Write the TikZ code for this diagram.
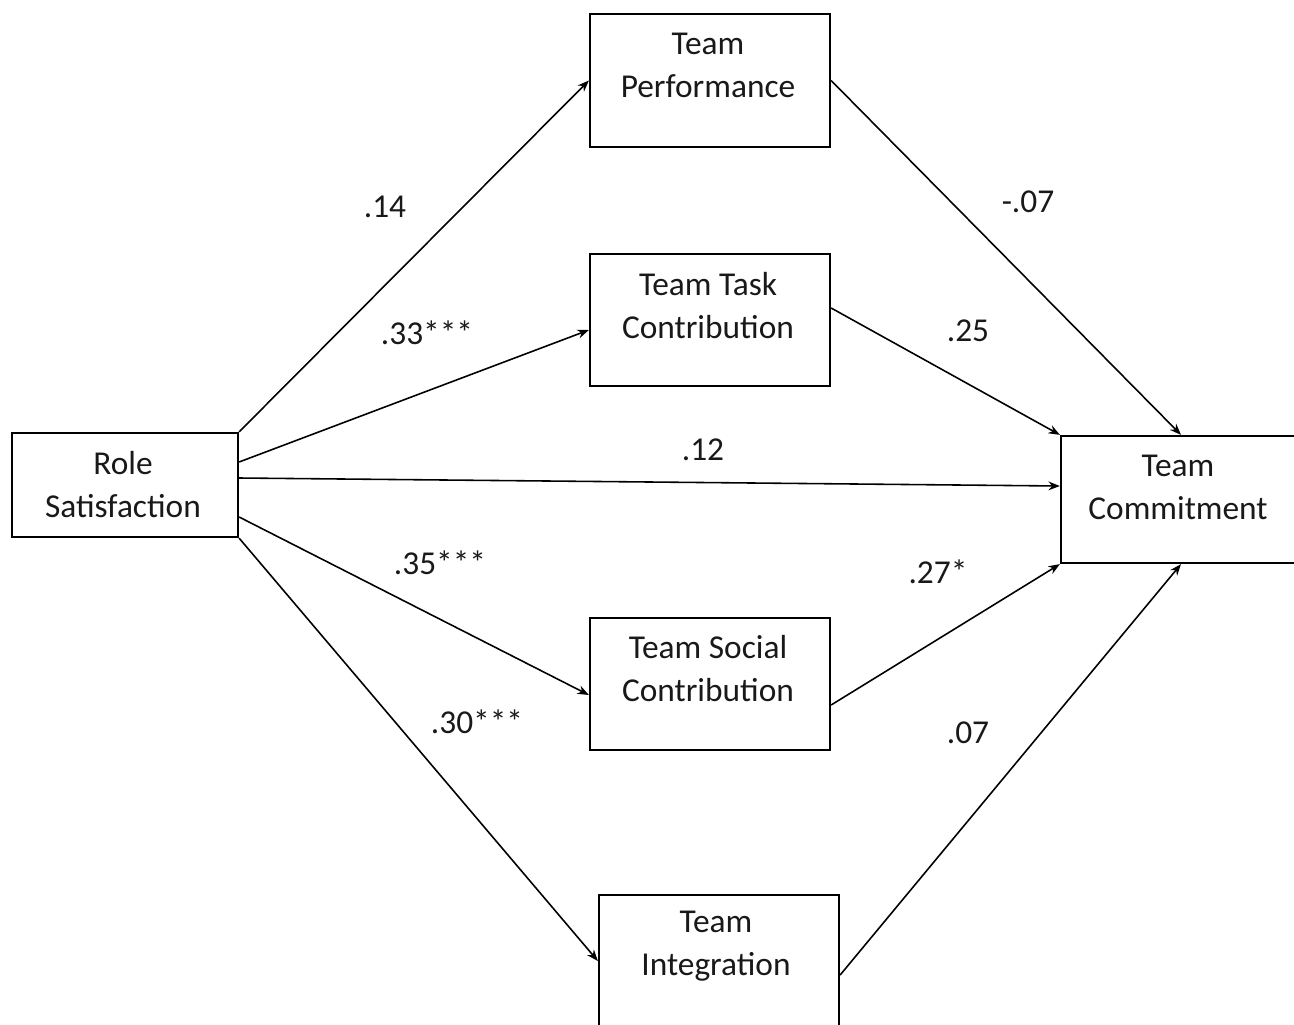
\documentclass[tikz,border=0pt]{standalone}
\usepackage{fontspec}
\setmainfont{Carlito}
\usetikzlibrary{arrows.meta}
\tikzset{
    every picture/.style={
        >=Stealth,
        x=0.02cm, y=-0.02cm
    },
    % Box and label styles
    varbox/.style={rectangle, draw=black, line width=1.3pt, fill=white, minimum width=4.8cm, minimum height=2.64cm, inner sep=0pt},
    vartext/.style={align=center, font=\fontsize{19}{24.5}\selectfont, text=black!90},
    coef/.style={font=\fontsize{19}{23}\selectfont, text=black!90, inner sep=1pt},
    % Arrow style
    arrow/.style={-{Stealth[length=6.5pt,width=5pt]}, line width=0.9pt, black}
}

\begin{document}
\begin{tikzpicture}

    \useasboundingbox (0,0) rectangle (1294,1024);

    % Boxes
    \node[varbox, minimum width=4.52cm, minimum height=2.08cm] (role) at (125,485) {};
    \node[varbox, minimum height=2.66cm] (perf) at (710,80.5) {};
    \node[varbox] (task) at (710,320) {};
    \node[varbox, minimum height=2.54cm] (commit) at (1181,499.5) {};
    \node[varbox] (social) at (710,684) {};
    \node[varbox] (integ) at (719,961) {};

    % Box texts
    \node[vartext] (role-t) at (123,485) {Role\\Satisfaction};
    \node[vartext] (perf-t) at (708,65) {Team\\Performance};
    \node[vartext] (task-t) at (708,306) {Team Task\\Contribution};
    \node[vartext] (commit-t) at (1178,487) {Team\\Commitment};
    \node[vartext] (social-t) at (708,669) {Team Social\\Contribution};
    \node[vartext] (integ-t) at (716,946) {Team\\Integration};

    % Arrows
    \draw[arrow] (role.north east) -- (perf.west);
    \draw[arrow] ([yshift=4.6mm]role.east) -- ([yshift=-2mm]task.west);
    \draw[arrow] ([yshift=1.4mm]role.east) -- ([yshift=2.7mm]commit.west);
    \draw[arrow] ([yshift=-6.4mm]role.east) -- ([yshift=-2.2mm]social.west);
    \draw[arrow] (role.south east) -- (integ.west);
    \draw[arrow] (perf.east) -- (commit.north);
    \draw[arrow] ([yshift=2.4mm]task.east) -- (commit.north west);
    \draw[arrow] ([yshift=-4.2mm]social.east) -- (commit.south west);
    \draw[arrow] ([yshift=-2.8mm]integ.east) -- (commit.south);

    % Coefficients
    \node[coef] (c-perf) at (385,207) {.14};
    \node[coef] (c-task) at (427,333) {.33***};
    \node[coef] (c-direct) at (703,450) {.12};
    \node[coef] (c-social) at (440,563) {.35***};
    \node[coef] (c-integ) at (477,722) {.30***};
    \node[coef] (c-perf2) at (1028,202) {-.07};
    \node[coef] (c-task2) at (968,331) {.25};
    \node[coef] (c-social2) at (938,572) {.27*};
    \node[coef] (c-integ2) at (968,733) {.07};

\end{tikzpicture}
\end{document}
